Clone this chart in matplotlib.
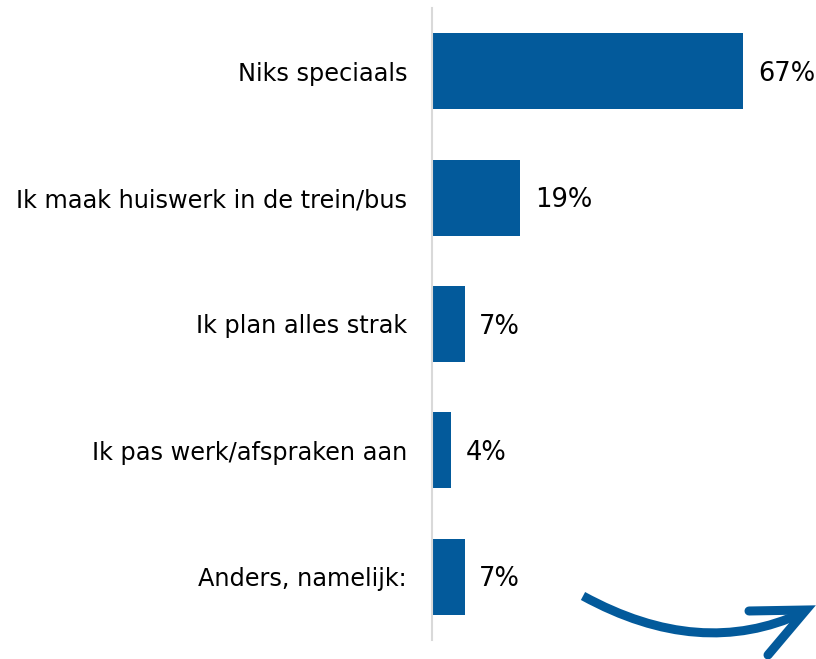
import matplotlib.pyplot as plt
from matplotlib.patches import PathPatch
from matplotlib.path import Path

categories = ["Niks speciaals", "Ik maak huiswerk in de trein/bus",
              "Ik plan alles strak", "Ik pas werk/afspraken aan",
              "Anders, namelijk:"]
values = [67, 19, 7, 4, 7]

blue = "#035A9B"
plt.rcParams['font.family'] = ['DejaVu Sans']

fig = plt.figure(figsize=(8.16, 6.59), dpi=100)
ax = fig.add_axes([432 / 816, 1 - 640 / 659, 1 - 432 / 816, 632 / 659])

ypos = list(range(len(categories)))
ax.barh(ypos, values, height=0.6, color=blue)
ax.set_ylim(4.5, -0.5)
ax.set_xlim(0, 82.7)

for y, v in zip(ypos, values):
    ax.text(v + 3.2, y + 0.02, f"{v}%", va="center", ha="left", fontsize=18.5, color="black")

ax.set_yticks(ypos)
ax.set_yticklabels(categories, fontsize=17.3)
ax.tick_params(axis="y", length=0, pad=18)
ax.set_xticks([])
for s in ["top", "right", "bottom"]:
    ax.spines[s].set_visible(False)
ax.spines["left"].set_color("#d9d9d9")
ax.spines["left"].set_linewidth(1.5)

# decorative curved arrow, bottom right
W, H = 816, 659
def fc(x, y):
    return (x / W, 1 - y / H)

verts = [fc(583, 596), fc(700, 660), fc(802, 613)]
curve = PathPatch(Path(verts, [Path.MOVETO, Path.CURVE3, Path.CURVE3]),
                  transform=fig.transFigure, fill=False, edgecolor=blue,
                  linewidth=6.5, capstyle="butt")
fig.patches.append(curve)
head = PathPatch(Path([fc(749, 611), fc(806, 610), fc(768, 655)],
                      [Path.MOVETO, Path.LINETO, Path.LINETO]),
                 transform=fig.transFigure, fill=False, edgecolor=blue,
                 linewidth=6.5, capstyle="round", joinstyle="miter")
fig.patches.append(head)

fig.savefig("out.png", dpi=100)
